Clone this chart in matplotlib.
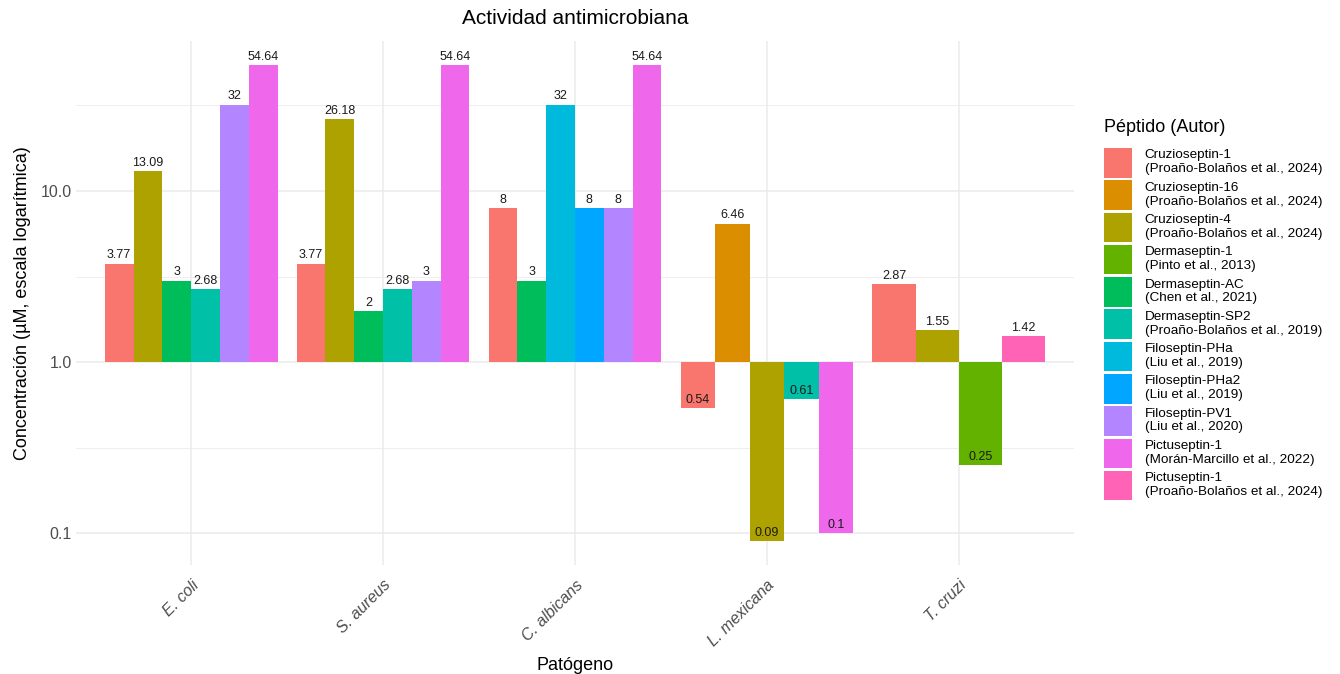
import numpy as np
import matplotlib
matplotlib.use("Agg")
import matplotlib.pyplot as plt
from matplotlib.patches import Patch

plt.rcParams['font.family'] = ['Liberation Sans', 'DejaVu Sans']

# data
patogenos = ["E. coli", "S. aureus", "C. albicans", "L. mexicana", "T. cruzi"]
peptidos = [
    "Cruzioseptin-1\n(Proaño-Bolaños et al., 2024)",
    "Cruzioseptin-16\n(Proaño-Bolaños et al., 2024)",
    "Cruzioseptin-4\n(Proaño-Bolaños et al., 2024)",
    "Dermaseptin-1\n(Pinto et al., 2013)",
    "Dermaseptin-AC\n(Chen et al., 2021)",
    "Dermaseptin-SP2\n(Proaño-Bolaños et al., 2019)",
    "Filoseptin-PHa\n(Liu et al., 2019)",
    "Filoseptin-PHa2\n(Liu et al., 2019)",
    "Filoseptin-PV1\n(Liu et al., 2020)",
    "Pictuseptin-1\n(Morán-Marcillo et al., 2022)",
    "Pictuseptin-1\n(Proaño-Bolaños et al., 2024)",
]
# one list per peptide, values per pathogen (None = not tested)
cruz1 = [3.77, 3.77, 8, 0.54, 2.87]
cruz16 = [None, None, None, 6.46, None]
cruz4 = [13.09, 26.18, None, 0.09, 1.55]
derm1 = [None, None, None, None, 0.25]
dermAC = [3, 2, 3, None, None]
dermSP2 = [2.68, 2.68, None, 0.61, None]
filoPHa = [None, None, 32, None, None]
filoPHa2 = [None, None, 8, None, None]
filoPV1 = [32, 3, 8, None, None]
pict_moran = [54.64, 54.64, 54.64, 0.1, None]
pict_proano = [None, None, None, None, 1.42]
valores = [cruz1, cruz16, cruz4, derm1, dermAC, dermSP2,
           filoPHa, filoPHa2, filoPV1, pict_moran, pict_proano]

colores = ["#F8766D", "#DB8E00", "#AEA200", "#64B200", "#00BD5C", "#00C1A7",
           "#00BADE", "#00A6FF", "#B385FF", "#EF67EB", "#FF63B6"]

fig = plt.figure(figsize=(13.4, 6.74), dpi=100)
ax = fig.add_axes([0.0567, 0.1617, 0.7448, 0.7775])
ax.set_yscale('log')

# dodge like ggplot: total width 0.9 split among present bars
for j, pat in enumerate(patogenos):
    presentes = [i for i in range(len(peptidos)) if valores[i][j] is not None]
    n = len(presentes)
    w = 0.9 / n
    for k, i in enumerate(presentes):
        v = valores[i][j]
        x = j - 0.45 + w * (k + 0.5)
        ax.bar(x, v - 1, bottom=1, width=w, color=colores[i], linewidth=0, zorder=2)
        ax.annotate(f"{v:g}", (x, v), xytext=(0, 1.5), textcoords='offset points',
                    ha='center', va='bottom', fontsize=9, color='#1a1a1a', zorder=3)

todos = [v for col in valores for v in col if v is not None] + [1]
lo, hi = np.log10(min(todos)), np.log10(max(todos))
pad = (hi - lo) * 0.05
ax.set_ylim(10 ** (lo - pad), 10 ** (hi + pad))
ax.set_xlim(-0.6, len(patogenos) - 0.4)

ax.set_yticks([0.1, 1, 10])
ax.set_yticklabels(["0.1", "1.0", "10.0"])
ax.set_yticks([10 ** -0.5, 10 ** 0.5, 10 ** 1.5], minor=True)
ax.yaxis.set_minor_formatter(plt.NullFormatter())
ax.set_xticks(range(len(patogenos)))
ax.set_xticklabels(patogenos, rotation=45, ha='right', va='top',
                   rotation_mode='anchor', style='italic')
ax.tick_params(axis='both', which='both', length=0, labelsize=11.5, labelcolor='#4D4D4D')
ax.tick_params(axis='x', pad=9)
ax.tick_params(axis='y', pad=3)

ax.grid(True, which='major', color='#EBEBEB', linewidth=1.1, zorder=0)
ax.grid(True, which='minor', axis='y', color='#EBEBEB', linewidth=0.6, zorder=0)
ax.set_axisbelow(True)
for s in ax.spines.values():
    s.set_visible(False)

ax.set_title("Actividad antimicrobiana", fontsize=15, pad=12)
ax.set_xlabel("Patógeno", fontsize=13, labelpad=6)
ax.set_ylabel("Concentración (µM, escala logarítmica)", fontsize=13, labelpad=7)

handles = [Patch(facecolor=c, edgecolor='none') for c in colores]
leg = fig.legend(handles, peptidos, loc='upper left', bbox_to_anchor=(0.8195, 0.832),
                 frameon=False, fontsize=9.7, title="Péptido (Autor)", title_fontsize=13,
                 handlelength=2.15, handleheight=3.0, labelspacing=0.2,
                 handletextpad=0.9, borderaxespad=0)
leg._legend_box.align = "left"
leg._legend_box.sep = 9

fig.savefig("out.png", dpi=100)
